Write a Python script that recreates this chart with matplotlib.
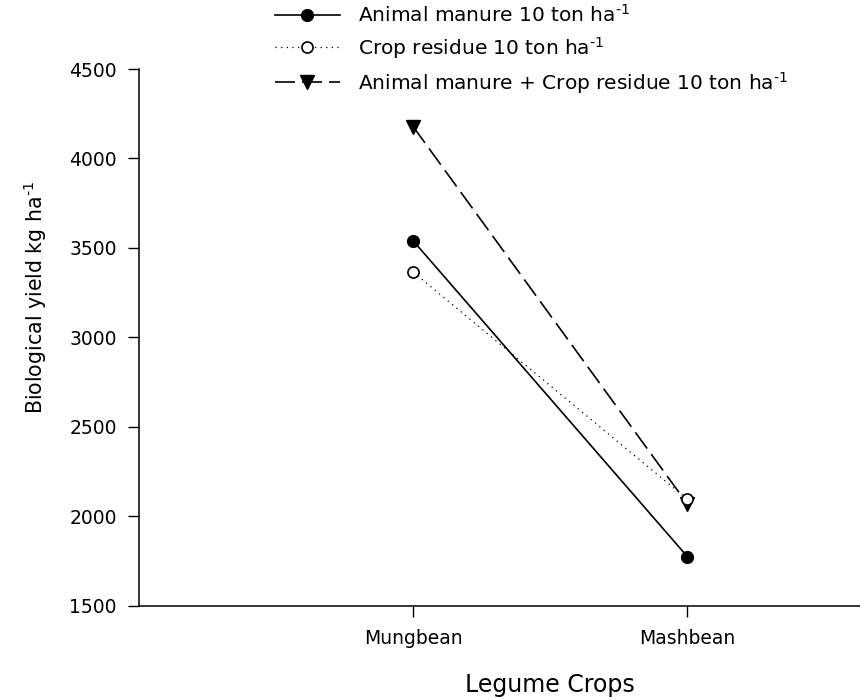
import matplotlib
matplotlib.use("Agg")
import matplotlib.pyplot as plt

plt.rcParams['font.family'] = ['DejaVu Sans']
plt.rcParams['mathtext.default'] = 'regular'

categories = ["Mungbean", "Mashbean"]
animal_manure = [3540, 1775]
crop_residue = [3365, 2095]
combined = [4178, 2070]
sup = "$^{\u2010" + "1}$"
labels = ["Animal manure 10 ton ha" + sup,
          "Crop residue 10 ton ha" + sup,
          "Animal manure + Crop residue 10 ton ha" + sup]
yticks = [1500, 2000, 2500, 3000, 3500, 4000, 4500]

fig = plt.figure(figsize=(8.6, 7.0), dpi=100)
ax = fig.add_axes([0.1616, 0.1347, 0.8384, 0.7667])

x = [1, 2]
l1, = ax.plot(x, animal_manure, color='black', lw=1.2, marker='o', ms=8.5,
              mfc='black', mec='black', zorder=3)
l2, = ax.plot(x, crop_residue, color='black', lw=0.9, ls=(0, (1, 3.5)), marker='o', ms=8,
              mfc='white', mec='black', mew=1.2, zorder=3)
l3, = ax.plot(x, combined, color='black', lw=1.2, ls=(0, (12, 4.2)), marker='v', ms=9.5,
              mfc='black', mec='black', zorder=2)

ax.set_xlim(0, 2.63)
ax.set_ylim(1500, 4500)
ax.set_xticks(x)
ax.set_xticklabels(categories, fontsize=13.5)
ax.set_yticks(yticks)
ax.set_yticklabels([str(v) for v in yticks], fontsize=13.5)
ax.tick_params(axis='both', direction='out', length=8, width=1, color='black', pad=8)
ax.tick_params(axis='x', pad=9)
for s in ['top', 'right']:
    ax.spines[s].set_visible(False)
for s in ['left', 'bottom']:
    ax.spines[s].set_linewidth(1.1)

ax.set_xlabel("Legume Crops", fontsize=17)
ax.set_ylabel("Biological yield kg ha" + sup, fontsize=14.8)
ax.xaxis.set_label_coords(0.57, -0.125)
ax.yaxis.set_label_coords(-0.125, 0.575)

fig.legend([l1, l2, l3], labels, loc='upper left', bbox_to_anchor=(0.3105, 1.006),
           frameon=False, fontsize=14.5, handlelength=3.2, handletextpad=0.9,
           labelspacing=0.45, borderaxespad=0.0)

fig.savefig("out.png", dpi=100)
